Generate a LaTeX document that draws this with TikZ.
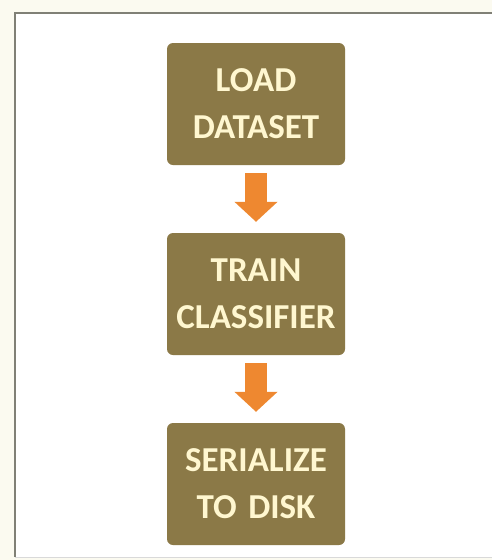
\documentclass[tikz,border=0pt]{standalone}
\usepackage{fontspec}
\setmainfont{Carlito}
\usepackage{tikz}
\usetikzlibrary{positioning,arrows.meta}

\definecolor{boxolive}{RGB}{139,121,71}
\definecolor{boxtext}{RGB}{255,247,208}
\definecolor{floworange}{RGB}{238,136,48}
\definecolor{framegray}{RGB}{128,128,118}
\definecolor{papercream}{RGB}{251,250,240}

\begin{document}
\begin{tikzpicture}[x=1pt,y=-1pt,
	stepbox/.style={draw=none, fill=boxolive, rounded corners=6pt,
		minimum width=178pt, minimum height=122pt, text width=170pt,
		align=center, text=boxtext, font=\bfseries\fontsize{35}{47}\selectfont},
	flow/.style={draw=floworange, line width=22pt,
		-{Triangle[width=42pt,length=20pt]}, shorten <=8pt, shorten >=11pt}]

% parameters %{{{2

	\def\boxgap{190}

% page and frame %{{{2

	\useasboundingbox (0,0) rectangle (492,560);
	\fill[papercream] (0,0) rectangle (492,560);
	\fill[white] (15,13) rectangle (492,557);
	\draw[framegray, line width=2pt] (15,557) -- (15,13) -- (492,13);
	\draw[black!15, line width=1pt] (15,557) -- (492,557);

% steps %{{{2

	\node[stepbox] (load) at (256,104) {LOAD\\DATASET};
	\node[stepbox] (train) at (256,104+\boxgap) {TRAIN\\CLASSIFIER};
	\node[stepbox] (serialize) at (256,104+2*\boxgap) {SERIALIZE\\TO DISK};

% arrows %{{{2

	\draw[flow] (load) -- (train);
	\draw[flow] (train) -- (serialize);

% closing %{{{2

\end{tikzpicture}
\end{document}
